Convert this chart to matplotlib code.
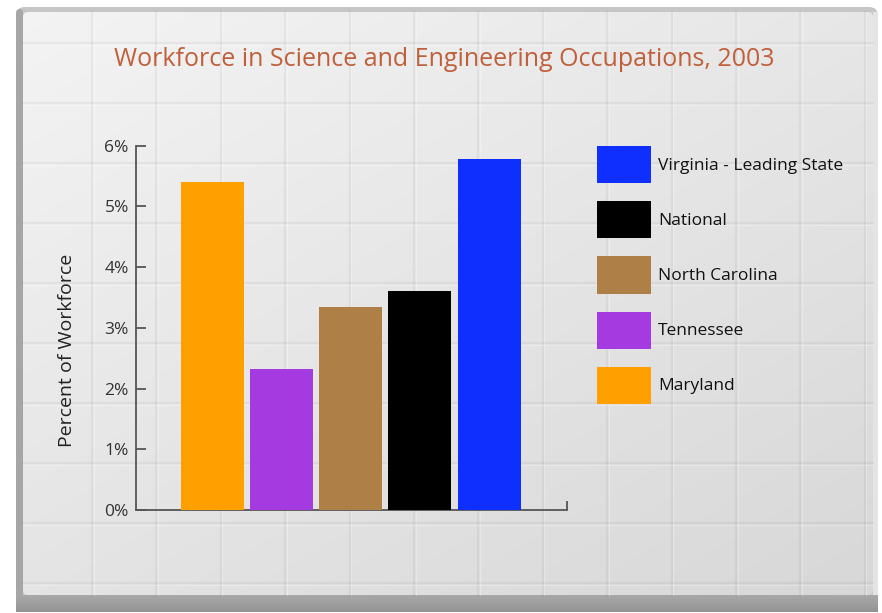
import numpy as np
import matplotlib
matplotlib.use("Agg")
import matplotlib.pyplot as plt
from matplotlib.patches import FancyBboxPatch

# Data: share of workforce in science & engineering occupations, 2003
states = ["Maryland", "Tennessee", "North Carolina", "National", "Virginia - Leading State"]
percent = [5.41, 2.32, 3.35, 3.61, 5.78]
colors = ["#ffa000", "#a43ae0", "#ae8048", "#000000", "#0f2fff"]
yticks = [0, 1, 2, 3, 4, 5, 6]
ytick_labels = ["0%", "1%", "2%", "3%", "4%", "5%", "6%"]

title = "Workforce in Science and Engineering Occupations, 2003"
ylabel = "Percent of Workforce"

plt.rcParams["font.family"] = ["Open Sans", "DejaVu Sans"]

W, H = 882, 613
fig = plt.figure(figsize=(W / 100, H / 100), dpi=100)
fig.patch.set_facecolor("white")

# ---- background panel with grid, drawn in pixel coordinates ----
bg = fig.add_axes([0, 0, 1, 1], zorder=0)
bg.set_xlim(0, W)
bg.set_ylim(H, 0)
bg.axis("off")

# outer frame
bg.add_patch(FancyBboxPatch((16, 7), 862, 605, boxstyle="round,pad=0,rounding_size=9",
                            facecolor="#c6c6c6", edgecolor="none", zorder=1))
bg.add_patch(FancyBboxPatch((16, 9), 7, 603, boxstyle="round,pad=0,rounding_size=4",
                            facecolor="#a6a6a6", edgecolor="none", zorder=1.5))
# inner gradient surface
gx = np.linspace(0, 1, 200)
gy = np.linspace(0, 1, 200)
GX, GY = np.meshgrid(gx, gy)
val = 0.955 - 0.06 * GY - 0.05 * GX
img = np.clip(np.dstack([val, val, val * 1.004]), 0, 1)
surface = bg.imshow(img, extent=(23, 873, 595, 12), aspect="auto", zorder=2,
                    interpolation="bilinear")
clip = FancyBboxPatch((23, 12), 850, 583, boxstyle="round,pad=0,rounding_size=5",
                      facecolor="none", edgecolor="none", transform=bg.transData)
bg.add_patch(clip)
surface.set_clip_path(clip)
# light strip on the right edge
bg.add_patch(FancyBboxPatch((873, 12), 5, 583, boxstyle="square,pad=0",
                            facecolor="#e4e4e4", edgecolor="none", zorder=2))

# bottom band
band = np.linspace(0.66, 0.58, 50).reshape(-1, 1)
bg.imshow(np.dstack([band, band, band]), extent=(16, 878, 612, 595), aspect="auto",
          zorder=2, interpolation="bilinear")

# grid lines
for gxpos in np.arange(92, 873, 64.4):
    bg.plot([gxpos, gxpos], [12, 595], color="#000000", alpha=0.045, lw=1.6, zorder=3)
    bg.plot([gxpos + 1.5, gxpos + 1.5], [12, 595], color="#ffffff", alpha=0.3, lw=0.8, zorder=3)
for gypos in np.arange(43, 595, 60):
    bg.plot([23, 873], [gypos, gypos], color="#000000", alpha=0.045, lw=1.6, zorder=3)
    bg.plot([23, 873], [gypos + 1.5, gypos + 1.5], color="#ffffff", alpha=0.3, lw=0.8, zorder=3)

# ---- bar chart ----
ax_left, ax_right = 135.7, 566.7
ax_bottom, ax_top = 510.0, 145.7
ax = fig.add_axes([ax_left / W, 1 - ax_bottom / H,
                   (ax_right - ax_left) / W, (ax_bottom - ax_top) / H], zorder=2)
ax.patch.set_alpha(0)

x = np.arange(len(states))
bars = ax.bar(x, percent, width=0.913, color=colors, edgecolor="none", zorder=3)

ax.set_xlim(-1.12, 4 + 1.126)
ax.set_ylim(0, 6)
ax.set_yticks(yticks)
ax.set_yticklabels(ytick_labels)
# a single tick marks the right end of the baseline
ax.set_xticks([4 + 1.126])
ax.set_xticklabels([""])

spine_color = "#555555"
for side in ("top", "right"):
    ax.spines[side].set_visible(False)
for side in ("left", "bottom"):
    ax.spines[side].set_color(spine_color)
    ax.spines[side].set_linewidth(1.3)
ax.tick_params(axis="y", direction="in", length=7.5, width=1.3, color=spine_color,
               labelsize=12.5, labelcolor="#333333", pad=5)
ax.tick_params(axis="x", direction="in", length=6.5, width=1.3, color=spine_color)

ax.set_ylabel(ylabel, fontsize=14, color="#222222")
ax.yaxis.set_label_coords((76 - ax_left) / (ax_right - ax_left),
                          (ax_bottom - 350) / (ax_bottom - ax_top))

fig.text(444 / W, 1 - 59 / H, title, ha="center", va="center",
         fontsize=18, color="#c0603a")

# legend, listed from tallest to smallest as stacked on the right
fs = 12.5
hh = 3.04 * 12 / fs
swatch_px = 37
gap_px = 55 - swatch_px
order = [4, 3, 2, 1, 0]
ax.legend([bars[i] for i in order], [states[i] for i in order],
          loc="upper left", bbox_to_anchor=(597 / W, 1 - 146 / H),
          bbox_transform=fig.transFigure, frameon=False, fontsize=fs,
          handlelength=54 * 0.72 / fs, handleheight=hh,
          labelspacing=gap_px * 0.72 / fs,
          handletextpad=7 * 0.72 / fs, borderpad=0, borderaxespad=0,
          labelcolor="#111111")

fig.savefig("out.png", dpi=100)
